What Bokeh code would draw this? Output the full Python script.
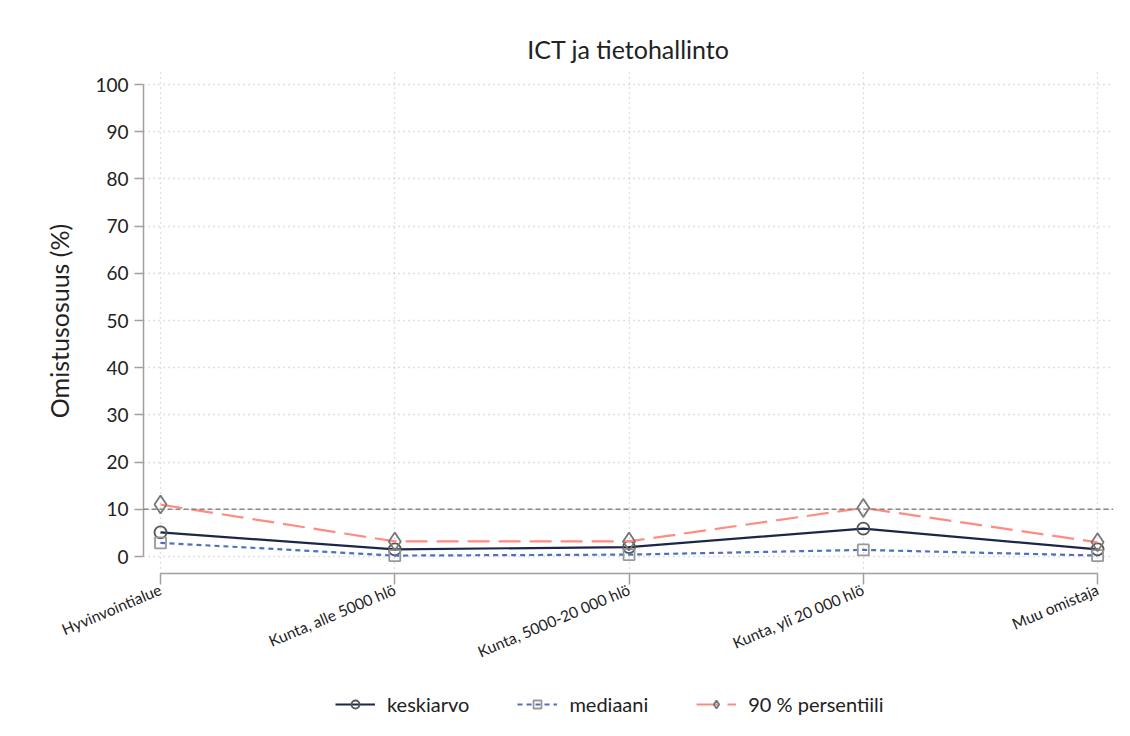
from bokeh.plotting import figure
from bokeh.layouts import column
from bokeh.models import (ColumnDataSource, FixedTicker, Span, Legend, LegendItem, Range1d)
from bokeh.embed import file_html
from bokeh.resources import INLINE

categories = ["Hyvinvointialue", "Kunta, alle 5000 hlö", "Kunta, 5000-20 000 hlö",
              "Kunta, yli 20 000 hlö", "Muu omistaja"]
keskiarvo = [5.1, 1.5, 2.0, 5.9, 1.5]
mediaani = [2.9, 0.2, 0.4, 1.4, 0.2]
persentiili90 = [11.0, 3.2, 3.2, 10.3, 3.0]
y_ticks = [0, 10, 20, 30, 40, 50, 60, 70, 80, 90, 100]
reference_level = 10

FONT = "Lato"
xs = list(range(len(categories)))
src = ColumnDataSource(dict(x=xs, k=keskiarvo, m=mediaani, p=persentiili90))

p = figure(width=1124, height=673, output_backend="svg", toolbar_location=None,
           x_range=Range1d(-0.0726, 4.068), y_range=Range1d(-3.6, 103.4),
           min_border_left=143, min_border_right=11, min_border_top=68, min_border_bottom=100,
           title="ICT ja tietohallinto")
p.outline_line_color = None
p.background_fill_color = "white"
p.border_fill_color = "white"

p.title.align = "center"
p.title.text_font = FONT
p.title.text_font_style = "normal"
p.title.text_font_size = "25px"
p.title.text_color = "#222222"

# grids
p.xgrid.ticker = FixedTicker(ticks=xs)
p.ygrid.ticker = FixedTicker(ticks=y_ticks)
for g in (p.xgrid, p.ygrid):
    g.grid_line_color = "#c0c0c0"
    g.grid_line_dash = "1 4"
    g.grid_line_width = 1.3

# axes
xa = p.xaxis[0]
xa.ticker = FixedTicker(ticks=xs)
xa.major_label_overrides = {i: c for i, c in zip(xs, categories)}
xa.major_label_orientation = 0.40
xa.bounds = (0, len(categories) - 1)
xa.axis_line_color = "#a0a0a0"
xa.axis_line_width = 1.5
xa.major_tick_line_color = "#a0a0a0"
xa.major_tick_line_width = 1.5
xa.major_tick_out = 11
xa.major_tick_in = 0
xa.minor_tick_line_color = None
xa.major_label_text_font = FONT
xa.major_label_text_font_size = "15.5px"
xa.major_label_text_color = "#222222"
xa.major_label_standoff = 4

ya = p.yaxis[0]
ya.ticker = FixedTicker(ticks=y_ticks)
ya.bounds = (0, 100)
ya.axis_line_color = "#a0a0a0"
ya.axis_line_width = 1.5
ya.major_tick_line_color = "#a0a0a0"
ya.major_tick_line_width = 1.5
ya.major_tick_out = 9
ya.major_tick_in = 0
ya.minor_tick_line_color = None
ya.major_label_text_font = FONT
ya.major_label_text_font_size = "19px"
ya.major_label_text_color = "#222222"
ya.major_label_standoff = 6
ya.axis_label = "Omistusosuus (%)"
ya.axis_label_text_font = FONT
ya.axis_label_text_font_style = "normal"
ya.axis_label_text_font_size = "25px"
ya.axis_label_text_color = "#222222"
ya.axis_label_standoff = 18

# reference line
p.add_layout(Span(location=reference_level, dimension="width", line_color="#888888",
                  line_dash="5 3", line_width=1.6))

STYLES = [
    ("k", dict(line_color="#1b2747", line_width=2.2),
     dict(marker="circle", size=12, fill_color=None, line_color="#555555", line_width=1.8)),
    ("m", dict(line_color="#4a72c0", line_width=2.2, line_dash="5 4"),
     dict(marker="square", size=11, fill_color=None, line_color="#999999", line_width=1.8)),
    ("p", dict(line_color="#ff8c80", line_width=2.2, line_dash="22 9"),
     dict(marker="diamond", size=18, fill_color=None, line_color="#777777", line_width=1.8)),
]
for col, ls, ms in STYLES:
    p.line("x", col, source=src, **ls)
    p.scatter("x", col, source=src, **ms)

# legend figure (same series, drawn out of view; only its legend shows)
lf = figure(width=1124, height=78, output_backend="svg", toolbar_location=None,
            x_range=Range1d(-0.0726, 4.068), y_range=Range1d(500, 600),
            x_axis_location=None, y_axis_location=None,
            min_border_left=0, min_border_right=0, min_border_top=0, min_border_bottom=0)
lf.grid.visible = False
lf.outline_line_color = None
lf.background_fill_color = "white"
lf.border_fill_color = "white"

labels = ["keskiarvo", "mediaani", "90 % persentiili"]
items = []
for (col, ls, ms), lab in zip(STYLES, labels):
    r1 = lf.line("x", col, source=src, **ls)
    r2 = lf.scatter("x", col, source=src, **ms)
    items.append(LegendItem(label=lab, renderers=[r1, r2]))

legend = Legend(items=items, orientation="horizontal", location=(192, 35))
legend.border_line_color = None
legend.background_fill_alpha = 0
legend.label_text_font = FONT
legend.label_text_font_size = "20px"
legend.label_text_color = "#222222"
legend.glyph_width = 40
legend.label_standoff = 12
legend.spacing = 48
legend.margin = 0
lf.add_layout(legend, "center")

layout = column(p, lf, spacing=0)
open("out.html", "w").write(file_html(layout, INLINE))
